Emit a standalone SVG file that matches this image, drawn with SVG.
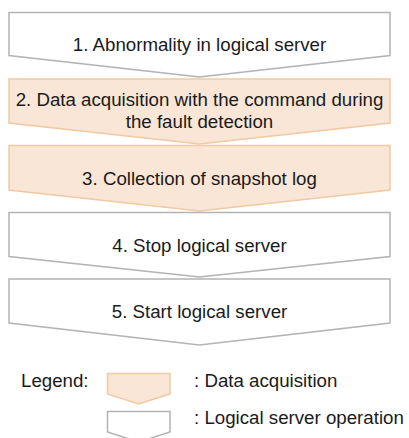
<svg xmlns="http://www.w3.org/2000/svg" width="409" height="438" viewBox="0 0 409 438">
<style>
.op{fill:#ffffff;stroke:#b3b3b3;stroke-width:1.5;stroke-linejoin:miter}
.da{fill:#f9e6d6;stroke:#f1c9a3;stroke-width:1.5;stroke-linejoin:miter}
text{font-family:"Liberation Sans",Arial,sans-serif;font-size:18.7px;fill:#1a1a1a}
.c{text-anchor:middle}
</style>
<rect width="409" height="438" fill="#ffffff"/>
<g id="step1">
<polygon class="op" points="9,12.5 390,12.5 390,55.5 199.5,77 9,55.5"/>
<text class="c" x="199.5" y="51">1. Abnormality in logical server</text>
</g>
<g id="step2">
<polygon class="da" points="9,79 390,79 390,123 199.5,144 9,123"/>
<text class="c" x="199.5" y="106">2. Data acquisition with the command during</text>
<text class="c" x="199.5" y="128">the fault detection</text>
</g>
<g id="step3">
<polygon class="da" points="9,145.5 390,145.5 390,190 199.5,211 9,190"/>
<text class="c" x="199.5" y="184.5">3. Collection of snapshot log</text>
</g>
<g id="step4">
<polygon class="op" points="9,212.5 390,212.5 390,256.5 199.5,277 9,256.5"/>
<text class="c" x="199.5" y="251.5">4. Stop logical server</text>
</g>
<g id="step5">
<polygon class="op" points="9,279 390,279 390,323 199.5,345 9,323"/>
<text class="c" x="199.5" y="318">5. Start logical server</text>
</g>
<g id="connectors"/>
<g id="legend">
<text x="21" y="387">Legend:</text>
<polygon class="da" points="107.5,373.5 170,373.5 170,394 138.7,404 107.5,394"/>
<text x="194" y="387">: Data acquisition</text>
<polygon class="op" points="107.5,411.5 170,411.5 170,432 138.7,442 107.5,432"/>
<text x="194" y="423.5">: Logical server operation</text>
</g>
</svg>
